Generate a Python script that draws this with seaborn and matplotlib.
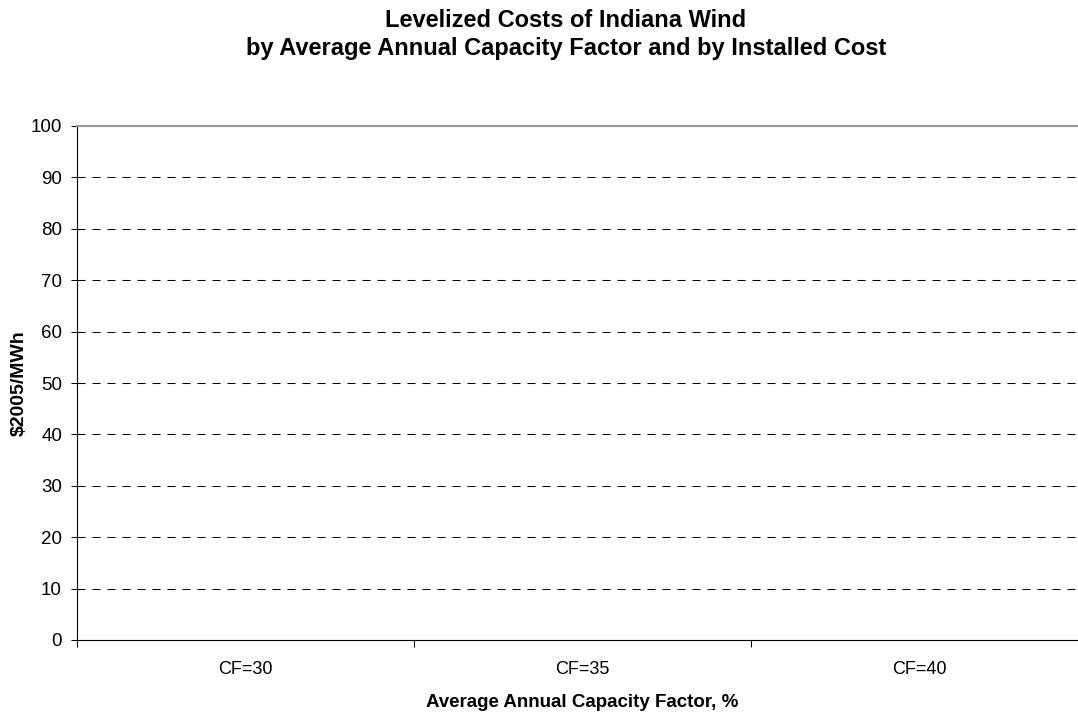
import pandas as pd
import numpy as np
import seaborn as sns
import matplotlib.pyplot as plt

# Chart data: categories on the x axis, no bars are drawn in the reference
categories = ['CF=30', 'CF=35', 'CF=40']
costs = [0, 0, 0]  # empty chart, nothing plotted
y_ticks = [0, 10, 20, 30, 40, 50, 60, 70, 80, 90, 100]
title_lines = ['Levelized Costs of Indiana Wind',
               'by Average Annual Capacity Factor and by Installed Cost']

data = pd.DataFrame({'CF': categories, 'Cost': costs})

sns.set_style('white')
plt.rcParams['font.family'] = ['Liberation Sans', 'DejaVu Sans']
plt.rcParams['text.color'] = 'black'
plt.rcParams['axes.labelcolor'] = 'black'
plt.rcParams['xtick.color'] = 'black'
plt.rcParams['ytick.color'] = 'black'

W, H = 1078, 715
fig = plt.figure(figsize=(W / 100, H / 100), dpi=100)
# plot area runs a little past the right edge of the picture, as in the reference
ax = fig.add_axes([77 / W, 75 / H, 1011 / W, 514 / H])

sns.barplot(x='CF', y='Cost', data=data, ax=ax, color='#9999ff', width=0.5)

ax.set_xlim(-0.5, 2.5)
ax.set_ylim(0, 100)
ax.set_yticks(y_ticks)
ax.set_yticklabels([str(v) for v in y_ticks], fontsize=13.5)

# dashed gridlines
for v in y_ticks[1:-1]:
    ax.axhline(v, color='black', linestyle=(0, (7.7, 6.7)), linewidth=0.75, zorder=0)

# category labels centred, tick marks on the boundaries
ax.set_xticks([-0.5, 0.5, 1.5, 2.5])
ax.set_xticklabels([])
ax.set_xticks([0, 1, 2], minor=True)
ax.set_xticklabels(categories, minor=True, fontsize=13)
ax.tick_params(axis='x', which='minor', length=0, pad=15)
ax.tick_params(axis='x', which='major', direction='out', length=5, width=0.75, bottom=True)
ax.tick_params(axis='y', direction='out', length=4.3, width=0.75, left=True, pad=6.5)

for side in ['left', 'bottom']:
    ax.spines[side].set_color('black')
    ax.spines[side].set_linewidth(0.8)
ax.spines['top'].set_color('#999999')
ax.spines['top'].set_linewidth(1.5)
ax.spines['right'].set_visible(False)

ax.set_xlabel('Average Annual Capacity Factor, %', fontsize=13.5, fontweight='bold')
ax.xaxis.set_label_coords(0.5, -67 / 514)
ax.xaxis.label.set_verticalalignment('baseline')
ax.set_ylabel('\\$2005/MWh', fontsize=14, fontweight='bold')
ax.yaxis.set_label_coords(-57.5 / 1011, 0.5)
ax.yaxis.label.set_verticalalignment('center')

# two title lines placed by baseline
fig.text(566 / W, 1 - 27 / H, title_lines[0], fontsize=17, fontweight='bold',
         ha='center', va='baseline')
fig.text(566 / W, 1 - 55 / H, title_lines[1], fontsize=17, fontweight='bold',
         ha='center', va='baseline')

fig.savefig('out.png', dpi=100)
